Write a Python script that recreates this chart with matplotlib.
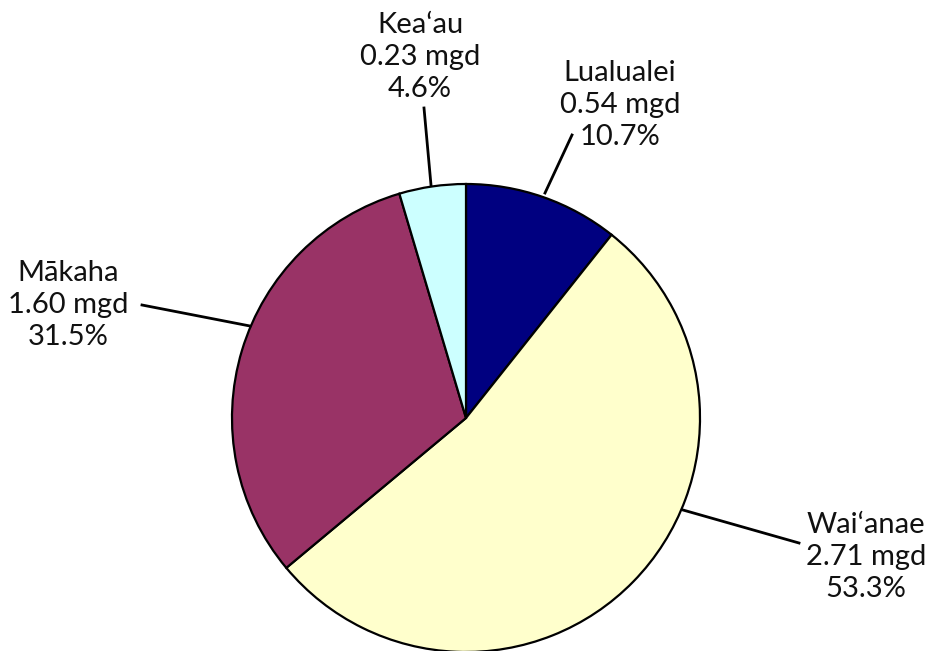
import matplotlib.pyplot as plt

plt.rcParams['font.family'] = ['Lato', 'DejaVu Sans']

# wells, clockwise from the top
names = ['Lualualei', 'Wai‘anae', 'Mākaha', 'Kea‘au']
mgd = [0.54, 2.71, 1.60, 0.23]
pct = [10.7, 53.3, 31.5, 4.6]
colors = ['#000080', '#FFFFCC', '#993366', '#CCFFFF']

# label centers and leader line anchors, in pixels from the top-left
label_xy = [(620, 105), (866, 557), (68, 305), (420, 57)]
line_from = [(572, 135), (799, 543), (142, 305), (424, 108)]
line_to = [(545, 193), (683, 510), (250, 326), (431, 185)]

W, H = 932, 651
fig = plt.figure(figsize=(W / 100, H / 100), dpi=100)
ax = fig.add_axes([0, 0, 1, 1])

ax.pie(pct, colors=colors, startangle=90, counterclock=False,
       center=(466, H - 418), radius=234, frame=True,
       wedgeprops=dict(edgecolor='black', linewidth=1.6))
ax.set_xlim(0, W)
ax.set_ylim(0, H)
ax.set_aspect('equal')
ax.axis('off')

for i in range(len(names)):
    (x0, y0), (x1, y1) = line_from[i], line_to[i]
    ax.plot([x0, x1], [H - y0, H - y1], color='black', lw=2)
    lx, ly = label_xy[i]
    ax.text(lx, H - ly, f'{names[i]}\n{mgd[i]:.2f} mgd\n{pct[i]:.1f}%',
            ha='center', va='center', fontsize=21, color='#111111',
            linespacing=1.28)

fig.savefig('out.png', dpi=100)
